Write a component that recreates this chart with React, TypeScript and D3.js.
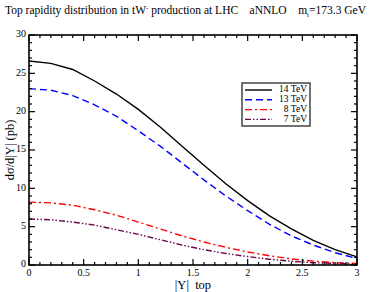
import * as React from "react";
import * as d3 from "d3";

const rapidity = [0, 0.2, 0.4, 0.6, 0.8, 1.0, 1.2, 1.4, 1.6, 1.8, 2.0, 2.2, 2.4, 2.6, 2.8, 3.0];
const tev14 = [26.6, 26.3, 25.5, 24.0, 22.3, 20.3, 18.0, 15.5, 13.0, 10.6, 8.4, 6.4, 4.7, 3.2, 2.0, 1.05];
const tev13 = [23.0, 22.8, 22.1, 20.9, 19.4, 17.5, 15.5, 13.3, 11.1, 9.0, 7.1, 5.3, 3.8, 2.6, 1.6, 0.85];
const tev8 = [8.2, 8.1, 7.8, 7.2, 6.5, 5.6, 4.7, 3.8, 3.0, 2.3, 1.7, 1.2, 0.8, 0.5, 0.3, 0.2];
const tev7 = [6.0, 5.9, 5.6, 5.2, 4.6, 4.0, 3.3, 2.6, 2.0, 1.5, 1.1, 0.75, 0.5, 0.3, 0.2, 0.12];

const seriesNames = ["14 TeV", "13 TeV", "8 TeV", "7 TeV"];
const xTickLabels = ["0", "0.5", "1", "1.5", "2", "2.5", "3"];
const yTickLabels = ["0", "5", "10", "15", "20", "25", "30"];

const styles = [
  { color: "#000000", dash: undefined as string | undefined },
  { color: "#0000ff", dash: "7 4" },
  { color: "#ff0000", dash: "7 3 2 3" },
  { color: "#670748", dash: "6 2 1.5 2 1.5 2" },
];

const W = 382;
const H = 292;
const margin = { top: 35, right: 25, bottom: 27, left: 29 };
const font = "'Liberation Serif', 'DejaVu Serif', serif";

export default function App() {
  const iw = W - margin.left - margin.right;
  const ih = H - margin.top - margin.bottom;
  const x = d3.scaleLinear().domain([0, 3]).range([0, iw]);
  const y = d3.scaleLinear().domain([0, 30]).range([ih, 0]);

  const allSeries = [tev14, tev13, tev8, tev7];
  const line = d3
    .line<number>()
    .x((_, i) => x(rapidity[i]))
    .y((d) => y(d));

  const xMinor = d3.range(0, 31).map((i) => i / 10);
  const yMinor = d3.range(0, 31);

  return (
    <svg
      width={W}
      height={H}
      style={{ position: "absolute", left: 0, top: 0, background: "#fff" }}
      fontFamily={font}
    >
      <text x={5} y={14} fontSize={11.5} fill="#000" style={{ whiteSpace: "pre" }}>
        Top rapidity distribution in tW
        <tspan dy={-4} fontSize={7}>-</tspan>
        <tspan dy={4}>{" production at LHC    aNNLO    m"}</tspan>
        <tspan dy={3} fontSize={7}>t</tspan>
        <tspan dy={-3}>=173.3 GeV</tspan>
      </text>

      <g transform={`translate(${margin.left},${margin.top})`}>
        {allSeries.map((s, i) => (
          <path
            key={seriesNames[i]}
            d={line(s) ?? undefined}
            fill="none"
            stroke={styles[i].color}
            strokeWidth={1.4}
            strokeDasharray={styles[i].dash}
          />
        ))}

        {xMinor.map((t, i) => {
          const len = i % 5 === 0 ? 6 : 3;
          return (
            <g key={"xm" + i}>
              <line x1={x(t)} x2={x(t)} y1={ih} y2={ih - len} stroke="#000" strokeWidth={1.2} />
              <line x1={x(t)} x2={x(t)} y1={0} y2={len} stroke="#000" strokeWidth={1.2} />
            </g>
          );
        })}
        {yMinor.map((t, i) => {
          const len = i % 5 === 0 ? 6 : 3;
          return (
            <g key={"ym" + i}>
              <line x1={0} x2={len} y1={y(t)} y2={y(t)} stroke="#000" strokeWidth={1.2} />
              <line x1={iw} x2={iw - len} y1={y(t)} y2={y(t)} stroke="#000" strokeWidth={1.2} />
            </g>
          );
        })}

        <rect x={0} y={0} width={iw} height={ih} fill="none" stroke="#000" strokeWidth={1.6} />

        {xTickLabels.map((lab) => (
          <text key={"xl" + lab} x={x(+lab)} y={ih + 11} fontSize={10} textAnchor="middle" fill="#000">
            {lab}
          </text>
        ))}
        {yTickLabels.map((lab) => (
          <text
            key={"yl" + lab}
            x={-3}
            y={y(+lab)}
            fontSize={10}
            textAnchor="end"
            dominantBaseline="middle"
            fill="#000"
          >
            {lab}
          </text>
        ))}

        <g transform={`translate(213,48)`}>
          <rect x={0} y={0} width={68} height={43} fill="#fff" stroke="#444" strokeWidth={1.5} />
          {seriesNames.map((name, i) => (
            <g key={name} transform={`translate(0,${7 + i * 9.8})`}>
              <line
                x1={3}
                x2={30}
                y1={0}
                y2={0}
                stroke={styles[i].color}
                strokeWidth={1.4}
                strokeDasharray={styles[i].dash}
              />
              <text x={65} y={0} fontSize={9.5} textAnchor="end" dominantBaseline="middle" fill="#000">
                {name}
              </text>
            </g>
          ))}
        </g>
      </g>

      <text
        transform={`translate(14,${margin.top + ih / 2}) rotate(-90)`}
        fontSize={12.5}
        textAnchor="middle"
        fill="#000"
      >
        dσ/d|Y| (pb)
      </text>
      <text
        x={margin.left + iw / 2}
        y={289}
        fontSize={12.5}
        textAnchor="middle"
        fill="#000"
        style={{ whiteSpace: "pre" }}
      >
        {"|Y|  top"}
      </text>
    </svg>
  );
}
